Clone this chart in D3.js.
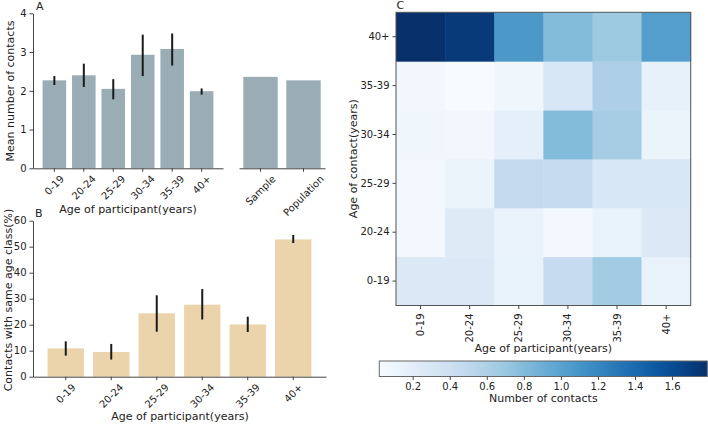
<!DOCTYPE html>
<html>
<head>
<meta charset="utf-8">
<script src="https://cdn.jsdelivr.net/npm/d3@7"></script>
<style>
  body { margin: 0; background: #fff; }
  svg { font-family: "DejaVu Sans", sans-serif; }
  .axis path, .axis line { stroke: #444; stroke-width: 1; }
  .axis text { fill: #222; font-size: 10px; font-family: "DejaVu Sans", sans-serif; }
  .lbl { fill: #222; font-size: 11px; font-family: "DejaVu Sans", sans-serif; }
</style>
</head>
<body>
<svg id="chart" width="708" height="424"></svg>
<script>
const ageGroups = ['0-19', '20-24', '25-29', '30-34', '35-39', '40+'];

// panel A
const meanContacts = [2.27, 2.40, 2.05, 2.93, 3.08, 1.99];
const meanLow = [2.15, 2.10, 1.78, 2.38, 2.65, 1.90];
const meanHigh = [2.38, 2.70, 2.30, 3.45, 3.48, 2.06];
const meanTicks = [0, 1, 2, 3, 4];
const compareLabels = ['Sample', 'Population'];
const compareValues = [2.36, 2.27];

// panel B
const samePct = [10.9, 9.5, 24.4, 27.7, 20.1, 52.8];
const sameLow = [8.1, 6.6, 17.3, 22.0, 17.2, 51.4];
const sameHigh = [13.6, 12.6, 31.3, 33.7, 23.1, 54.5];
const pctTicks = [0, 10, 20, 30, 40, 50, 60];

// panel C: rows = age of contact, cols = age of participant
const contactMatrix = [
  [0.27, 0.27, 0.15, 0.46, 0.66, 0.14], // 0-19
  [0.06, 0.24, 0.14, 0.06, 0.15, 0.27], // 20-24
  [0.06, 0.12, 0.48, 0.46, 0.30, 0.30], // 25-29
  [0.09, 0.07, 0.18, 0.80, 0.64, 0.12], // 30-34
  [0.07, 0.02, 0.09, 0.30, 0.60, 0.16], // 35-39
  [1.79, 1.73, 1.08, 0.80, 0.69, 1.03], // 40+
];
const colorTicks = [0.2, 0.4, 0.6, 0.8, 1.0, 1.2, 1.4, 1.6];

const svg = d3.select('#chart');
const grey = '#9aadb5';
const wheat = '#ebd4ab';

// rotated tick labels, box centered under the tick like matplotlib
function rotateTicks(g, angle, pad) {
  g.selectAll('.tick text').each((d, i, n) => {
    const t = d3.select(n[i]);
    const w = n[i].getComputedTextLength();
    const h = 8;
    const rad = (Math.abs(angle) * Math.PI) / 180;
    const boxH = w * Math.sin(rad) + h * Math.cos(rad);
    t.attr('y', 0)
      .attr('dy', '0.35em')
      .attr('text-anchor', 'middle')
      .attr('transform', `translate(0,${pad + boxH / 2}) rotate(${angle})`);
  });
}

// ---------- panel A ----------
const yA = d3.scaleLinear().domain([0, 4]).range([168.3, 13.3]);
const xA = d3.scaleBand().domain(ageGroups).range([33, 223]).paddingInner(0.2).paddingOuter(0.325);
const xS = d3.scaleBand().domain(compareLabels).range([239, 325]).paddingInner(0.2).paddingOuter(0.1);

const gA = svg.append('g');
gA.selectAll('rect.bar')
  .data(meanContacts)
  .join('rect')
  .attr('x', (d, i) => xA(ageGroups[i]))
  .attr('width', xA.bandwidth())
  .attr('y', (d) => yA(d))
  .attr('height', (d) => yA(0) - yA(d))
  .style('fill', grey);
gA.selectAll('line.err')
  .data(meanContacts)
  .join('line')
  .attr('x1', (d, i) => xA(ageGroups[i]) + xA.bandwidth() / 2)
  .attr('x2', (d, i) => xA(ageGroups[i]) + xA.bandwidth() / 2)
  .attr('y1', (d, i) => yA(meanLow[i]))
  .attr('y2', (d, i) => yA(meanHigh[i]))
  .style('stroke', '#1a1a1a')
  .style('stroke-width', 2);

gA.append('g')
  .attr('class', 'axis')
  .attr('transform', 'translate(0,168.3)')
  .call(d3.axisBottom(xA).tickSize(3.5).tickSizeOuter(0))
  .call(rotateTicks, -45, 6);
gA.append('g')
  .attr('class', 'axis')
  .attr('transform', 'translate(33,0)')
  .call(d3.axisLeft(yA).tickValues(meanTicks).tickFormat(d3.format('d')).tickSize(3.5).tickSizeOuter(0).tickPadding(3));

gA.selectAll('rect.cmp')
  .data(compareValues)
  .join('rect')
  .attr('class', 'cmp')
  .attr('x', (d, i) => xS(compareLabels[i]))
  .attr('width', xS.bandwidth())
  .attr('y', (d) => yA(d))
  .attr('height', (d) => yA(0) - yA(d))
  .style('fill', grey);
gA.append('g')
  .attr('class', 'axis')
  .attr('transform', 'translate(0,168.3)')
  .call(d3.axisBottom(xS).tickSize(3.5).tickSizeOuter(0))
  .call(rotateTicks, -45, 6);

gA.append('text').attr('class', 'lbl').attr('x', 128).attr('y', 213)
  .attr('text-anchor', 'middle').text('Age of participant(years)');
gA.append('text').attr('class', 'lbl')
  .attr('transform', 'translate(14,91) rotate(-90)')
  .attr('text-anchor', 'middle').text('Mean number of contacts');
gA.append('text').attr('class', 'lbl').attr('x', 36).attr('y', 9.5).text('A');

// ---------- panel B ----------
const yB = d3.scaleLinear().domain([0, 60]).range([376.7, 220.7]);
const xB = d3.scaleBand().domain(ageGroups).range([33, 326]).paddingInner(0.2).paddingOuter(0.32);
const gB = svg.append('g');
gB.selectAll('rect')
  .data(samePct)
  .join('rect')
  .attr('x', (d, i) => xB(ageGroups[i]))
  .attr('width', xB.bandwidth())
  .attr('y', (d) => yB(d))
  .attr('height', (d) => yB(0) - yB(d))
  .style('fill', wheat);
gB.selectAll('line.err')
  .data(samePct)
  .join('line')
  .attr('x1', (d, i) => xB(ageGroups[i]) + xB.bandwidth() / 2)
  .attr('x2', (d, i) => xB(ageGroups[i]) + xB.bandwidth() / 2)
  .attr('y1', (d, i) => yB(sameLow[i]))
  .attr('y2', (d, i) => yB(sameHigh[i]))
  .style('stroke', '#1a1a1a')
  .style('stroke-width', 2);
gB.append('g')
  .attr('class', 'axis')
  .attr('transform', 'translate(0,376.7)')
  .call(d3.axisBottom(xB).tickSize(3.5).tickSizeOuter(0))
  .call(rotateTicks, -45, 6);
gB.append('g')
  .attr('class', 'axis')
  .attr('transform', 'translate(33,0)')
  .call(d3.axisLeft(yB).tickValues(pctTicks).tickFormat(d3.format('d')).tickSize(3.5).tickSizeOuter(0).tickPadding(3));
gB.append('text').attr('class', 'lbl').attr('x', 180).attr('y', 420)
  .attr('text-anchor', 'middle').text('Age of participant(years)');
gB.append('text').attr('class', 'lbl')
  .attr('transform', 'translate(12,300) rotate(-90)')
  .attr('text-anchor', 'middle').text('Contacts with same age class(%)');
gB.append('text').attr('class', 'lbl').attr('x', 35).attr('y', 216.5).text('B');

// ---------- panel C ----------
const blues = ['#f7fbff', '#deebf7', '#c6dbef', '#9ecae1', '#6baed6', '#4292c6', '#2171b5', '#08519c', '#08306b'];
const ext = d3.extent(contactMatrix.flat());
const color = d3.scaleLinear()
  .domain(d3.range(9).map((k) => ext[0] + (k / 8) * (ext[1] - ext[0])))
  .range(blues)
  .interpolate(d3.interpolateRgb);

const xC = d3.scaleBand().domain(ageGroups).range([396, 690.7]);
const yC = d3.scaleBand().domain(ageGroups.slice().reverse()).range([12.3, 305.5]);
const gC = svg.append('g');
contactMatrix.forEach((row, r) => {
  gC.selectAll(null)
    .data(row)
    .join('rect')
    .attr('x', (d, c) => xC(ageGroups[c]))
    .attr('y', yC(ageGroups[r]))
    .attr('width', xC.bandwidth() + 0.5)
    .attr('height', yC.bandwidth() + 0.5)
    .style('fill', (d) => color(d));
});
gC.append('rect')
  .attr('x', 396).attr('y', 12.3).attr('width', 294.7).attr('height', 293.2)
  .style('fill', 'none').style('stroke', '#555').style('stroke-width', 1);
gC.append('g')
  .attr('class', 'axis')
  .attr('transform', 'translate(0,305.5)')
  .call(d3.axisBottom(xC).tickSize(3.5).tickSizeOuter(0))
  .call((g) => g.select('.domain').remove())
  .call((g) => g.selectAll('.tick text')
    .attr('y', 0).attr('dy', '0.35em').attr('text-anchor', 'end')
    .attr('transform', 'translate(0,8) rotate(-90)'));
gC.append('g')
  .attr('class', 'axis')
  .attr('transform', 'translate(396,0)')
  .call(d3.axisLeft(yC).tickSize(3.5).tickSizeOuter(0).tickPadding(3))
  .call((g) => g.select('.domain').remove());
gC.append('text').attr('class', 'lbl').attr('x', 543.3).attr('y', 352)
  .attr('text-anchor', 'middle').text('Age of participant(years)');
gC.append('text').attr('class', 'lbl')
  .attr('transform', 'translate(357,158.7) rotate(-90)')
  .attr('text-anchor', 'middle').text('Age of contact(years)');
gC.append('text').attr('class', 'lbl').attr('x', 396.5).attr('y', 8.5).text('C');

// colorbar
const cbX = d3.scaleLinear().domain(ext).range([379.3, 707.3]);
const grad = svg.append('defs').append('linearGradient').attr('id', 'cb');
grad.selectAll('stop')
  .data(d3.range(0, 1.0001, 0.05))
  .join('stop')
  .attr('offset', (d) => d)
  .attr('stop-color', (d) => color(ext[0] + d * (ext[1] - ext[0])));
svg.append('rect')
  .attr('x', 379.3).attr('y', 361).attr('width', 328).attr('height', 15.5)
  .style('fill', 'url(#cb)').style('stroke', '#666').style('stroke-width', 1);
svg.append('g')
  .attr('class', 'axis')
  .attr('transform', 'translate(0,376.5)')
  .call(d3.axisBottom(cbX).tickValues(colorTicks).tickFormat(d3.format('.1f')).tickSize(3.5).tickSizeOuter(0).tickPadding(3))
  .call((g) => g.select('.domain').remove());
svg.append('text').attr('class', 'lbl').attr('x', 543.3).attr('y', 402)
  .attr('text-anchor', 'middle').text('Number of contacts');
</script>
</body>
</html>
